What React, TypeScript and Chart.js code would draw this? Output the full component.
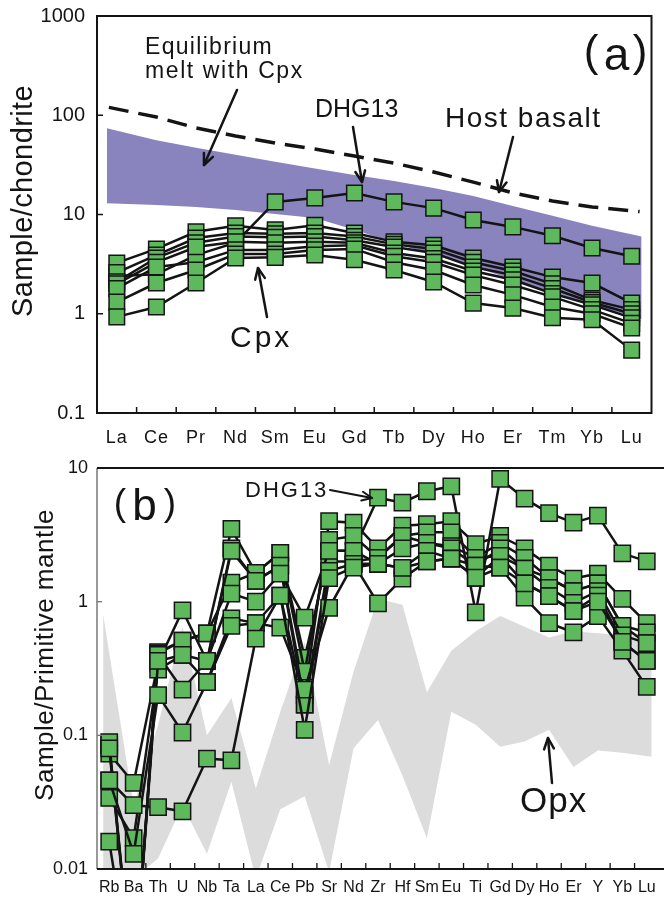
import React, { useEffect, useRef } from 'react';
import Chart from 'chart.js/auto';

// ---------- Panel (a): REE, chondrite normalised ----------
const reeLabels = ['La', 'Ce', 'Pr', 'Nd', 'Sm', 'Eu', 'Gd', 'Tb', 'Dy', 'Ho', 'Er', 'Tm', 'Yb', 'Lu'];
const reeTicks = [0.1, 1, 10, 100, 1000];

const cpxA1 = [3.25, 4.5, 6.7, 7.7, 7.0, 7.8, 6.5, 5.3, 4.9, 3.65, 2.96, 2.34, 2.04, 1.28];
const cpxA2 = [2.6, 3.9, 5.8, 6.5, 6.4, 6.5, 6.0, 5.0, 4.5, 3.3, 2.7, 2.0, 1.37, 1.1];
const cpxA3 = [2.1, 3.65, 5.2, 6.0, 5.9, 6.0, 5.5, 4.7, 4.1, 2.96, 2.45, 1.8, 1.3, 1.0];
const cpxA4 = [2.0, 3.3, 4.7, 5.3, 5.2, 5.3, 5.2, 4.1, 3.6, 2.7, 2.2, 1.6, 1.23, 0.91];
const cpxA5 = [1.8, 2.96, 3.3, 4.4, 4.4, 4.8, 4.9, 3.8, 3.3, 2.45, 1.95, 1.48, 1.1, 0.8];
const cpxA6 = [1.31, 2.04, 2.76, 4.0, 4.0, 4.4, 4.5, 3.3, 2.76, 1.95, 1.55, 1.17, 1.0, 0.72];
const cpxA7 = [0.93, 1.17, 2.04, 3.65, 3.7, 3.9, 3.5, 2.76, 2.09, 1.28, 1.14, 0.91, 0.87, 0.43];
const dhg13Ree = [2.4, 2.5, 3.9, 5.2, 13.4, 14.7, 16.5, 13.4, 11.6, 8.8, 7.5, 6.1, 4.6, 3.8];

// band / host basalt positions (category index, ends slightly outside La and Lu)
const meltX = [-0.25, 1, 2, 3, 4, 5, 6, 7, 8, 9, 10, 11, 12, 13.25];
const meltUpper = [74, 56, 47, 40, 34, 29, 25, 21.7, 18.5, 15.4, 12.2, 9.7, 7.7, 6.0];
const meltLower = [13, 12.5, 11.9, 11.1, 10.1, 9.2, 7.0, 5.2, 3.9, 3.0, 2.2, 1.66, 1.22, 0.88];
const hostX = [-0.2, 1, 2, 3, 4, 5, 6, 7, 8, 9, 10, 11, 12, 13.2];
const hostBasalt = [120, 96, 74.4, 61.8, 52.5, 45.7, 38.8, 33, 26.8, 21.2, 16.5, 13.7, 11.9, 10.7];

// ---------- Panel (b): spider diagram, primitive mantle normalised ----------
const pmLabels = ['Rb', 'Ba', 'Th', 'U', 'Nb', 'Ta', 'La', 'Ce', 'Pb', 'Sr', 'Nd', 'Zr', 'Hf', 'Sm', 'Eu', 'Ti', 'Gd', 'Dy', 'Ho', 'Er', 'Y', 'Yb', 'Lu'];
const pmTicks = [0.01, 0.1, 1, 10];

const dhg13Pm = [0.085, 0.0012, 0.42, 0.51, 0.58, 3.5, 1.64, 2.32, 0.38, 2.4, 2.4, 6.0, 5.5, 6.7, 7.3, 0.83, 8.3, 5.9, 4.6, 3.9, 4.4, 2.3, 2.0];
const cpxB1 = [0.073, 0.044, 0.35, 0.86, 0.36, 2.5, 1.43, 1.86, 0.2, 4.0, 3.9, 2.5, 3.7, 3.8, 4.0, 2.7, 3.1, 2.5, 1.86, 1.49, 1.62, 1.05, 0.69];
const cpxB2 = [0.089, 0.0012, 0.41, 0.51, 0.58, 1.39, 1.64, 2.32, 0.3, 2.9, 3.1, 2.13, 3.1, 3.3, 3.3, 2.13, 2.75, 2.13, 1.5, 1.2, 1.37, 0.66, 0.59];
const cpxB3 = [0.034, 0.017, 0.31, 0.4, 0.36, 1.15, 1.0, 1.62, 0.76, 2.4, 2.4, 1.92, 2.5, 2.75, 2.5, 1.86, 2.5, 1.77, 1.27, 0.98, 1.2, 0.56, 0.49];
const cpxB4 = [0.016, 0.0012, 0.36, 0.4, 0.25, 0.75, 0.69, 1.11, 0.17, 1.7, 1.92, 1.92, 1.79, 2.4, 2.1, 1.51, 2.2, 1.37, 1.1, 0.85, 1.11, 0.5, 0.36];
const cpxB5 = [0.046, 0.013, 0.2, 0.105, 0.25, 0.66, 0.69, 0.64, 0.22, 0.9, 1.92, 0.97, 1.49, 2.0, 2.1, 1.86, 1.8, 1.07, 0.69, 0.59, 0.78, 0.43, 0.23];
const cpxB6 = [0.046, 0.03, 0.029, 0.027, 0.067, 0.065, 0.53, 1.11, 0.11, 1.5, 1.8, 1.92, 1.79, 2.0, 2.1, 1.51, 1.8, 1.37, 1.1, 0.85, 1.0, 0.5, 0.36];
const cpxB7 = [0.08, 0.0012, 0.4, 0.22, 0.36, 2.4, 1.43, 1.86, 0.17, 2.0, 2.0, 2.13, 3.1, 2.75, 2.6, 2.13, 2.2, 1.77, 1.5, 1.2, 1.37, 0.66, 0.49];

const opxX = [-0.25, 1, 2, 3, 4, 5, 6, 7, 8, 9, 10, 11, 12, 13, 14, 15, 16, 17, 18, 19, 20, 21, 22.2];
const opxUpper = [0.8, 0.03, 0.12, 0.65, 0.1, 0.19, 0.04, 0.15, 0.5, 0.06, 0.3, 1.05, 0.95, 0.21, 0.43, 0.6, 0.78, 0.65, 0.54, 0.6, 0.58, 0.56, 0.55];
const opxLower = [0.0085, 0.0085, 0.012, 0.03, 0.013, 0.045, 0.0085, 0.028, 0.035, 0.0095, 0.08, 0.13, 0.05, 0.017, 0.15, 0.12, 0.082, 0.09, 0.11, 0.058, 0.077, 0.074, 0.069];

// ---------- styles ----------
const GREEN = '#5DB95B';
const PURPLE = '#8A84BE';
const GRAY = '#DCDCDC';
const INK = '#141414';
const SANS = '"Liberation Sans", Arial, Helvetica, sans-serif';

const idx = (vals: number[]) => vals.map((v, i) => ({ x: i, y: v }));
const at = (xs: number[], vals: number[]) => xs.map((x, i) => ({ x, y: vals[i] }));

function series(vals: number[], radius: number) {
  return {
    data: idx(vals),
    borderColor: INK,
    borderWidth: 2.5,
    pointStyle: 'rect',
    pointRadius: radius,
    pointHoverRadius: radius,
    pointBackgroundColor: GREEN,
    pointBorderColor: INK,
    pointBorderWidth: 1.5,
    fill: false,
    tension: 0,
  };
}

function band(xs: number[], vals: number[], color: string | null) {
  return {
    data: at(xs, vals),
    borderWidth: 0,
    borderColor: 'rgba(0,0,0,0)',
    pointRadius: 0,
    backgroundColor: color || 'rgba(0,0,0,0)',
    fill: color ? '+1' : false,
    tension: 0,
  };
}

function line(ctx: CanvasRenderingContext2D, x1: number, y1: number, x2: number, y2: number) {
  ctx.beginPath();
  ctx.moveTo(x1, y1);
  ctx.lineTo(x2, y2);
  ctx.stroke();
}

function arrow(ctx: CanvasRenderingContext2D, x1: number, y1: number, x2: number, y2: number, lw = 2.5, head = 12) {
  ctx.save();
  ctx.strokeStyle = INK;
  ctx.lineWidth = lw;
  ctx.lineCap = 'round';
  ctx.lineJoin = 'round';
  line(ctx, x1, y1, x2, y2);
  const ang = Math.atan2(y2 - y1, x2 - x1);
  const a1 = ang + Math.PI - 0.42;
  const a2 = ang + Math.PI + 0.42;
  ctx.beginPath();
  ctx.moveTo(x2 + head * Math.cos(a1), y2 + head * Math.sin(a1));
  ctx.lineTo(x2, y2);
  ctx.lineTo(x2 + head * Math.cos(a2), y2 + head * Math.sin(a2));
  ctx.stroke();
  ctx.restore();
}

function text(ctx: CanvasRenderingContext2D, s: string, x: number, y: number, font: string, align: CanvasTextAlign = 'left', spacing = 0, baseline: CanvasTextBaseline = 'alphabetic') {
  ctx.save();
  ctx.fillStyle = INK;
  ctx.font = font;
  ctx.textAlign = align;
  ctx.textBaseline = baseline;
  (ctx as any).letterSpacing = spacing + 'px';
  ctx.fillText(s, x, y);
  ctx.restore();
}

function vtext(ctx: CanvasRenderingContext2D, s: string, x: number, y: number, font: string, spacing = 0) {
  ctx.save();
  ctx.translate(x, y);
  ctx.rotate(-Math.PI / 2);
  ctx.fillStyle = INK;
  ctx.font = font;
  ctx.textAlign = 'center';
  ctx.textBaseline = 'alphabetic';
  (ctx as any).letterSpacing = spacing + 'px';
  ctx.fillText(s, 0, 0);
  ctx.restore();
}

const decorA = {
  id: 'decorA',
  afterDraw(chart: any) {
    const { ctx, chartArea: a } = chart;
    const x = chart.scales.x;
    const y = chart.scales.y;
    ctx.save();
    ctx.strokeStyle = INK;
    ctx.lineWidth = 1.5;
    for (let i = 0; i < reeLabels.length - 1; i++) {
      const px = x.getPixelForValue(i + 0.5);
      line(ctx, px, a.bottom, px, a.bottom - 6);
    }
    for (const v of reeTicks) {
      const py = y.getPixelForValue(v);
      line(ctx, a.left, py, a.left + 6, py);
    }
    ctx.lineWidth = 2;
    ctx.strokeRect(a.left, a.top, a.right - a.left, a.bottom - a.top);
    ctx.restore();

    reeLabels.forEach((l, i) => text(ctx, l, x.getPixelForValue(i), a.bottom + 25, `18px ${SANS}`, 'center', 1, 'middle'));
    reeTicks.forEach((v) => text(ctx, String(v), a.left - 12, y.getPixelForValue(v), `20px ${SANS}`, 'right', 0, 'middle'));
    vtext(ctx, 'Sample/chondrite', 32, 201, `29px ${SANS}`, 0.4);

    text(ctx, 'Equilibrium', 145, 53.5, `23px ${SANS}`, 'left', 1.3);
    text(ctx, 'melt with Cpx', 145, 78, `23px ${SANS}`, 'left', 1.6);
    arrow(ctx, 237, 90, 204, 165);
    text(ctx, 'DHG13', 315, 117, `25px ${SANS}`, 'left', 0);
    arrow(ctx, 353, 127, 362, 182);
    text(ctx, 'Host basalt', 445, 127, `28px ${SANS}`, 'left', 1.5);
    arrow(ctx, 513, 137, 499, 192);
    text(ctx, 'Cpx', 230, 347, `30px ${SANS}`, 'left', 3);
    arrow(ctx, 267, 317, 258, 268);

    text(ctx, '(', 591, 66, `44px ${SANS}`, 'center');
    text(ctx, 'a', 616.5, 70, `46px ${SANS}`, 'center');
    text(ctx, ')', 640, 66, `44px ${SANS}`, 'center');
  },
};

const decorB = {
  id: 'decorB',
  afterDraw(chart: any) {
    const { ctx, chartArea: a } = chart;
    const x = chart.scales.x;
    const y = chart.scales.y;
    ctx.save();
    ctx.strokeStyle = INK;
    ctx.lineWidth = 1.3;
    for (let i = 0; i < pmLabels.length - 1; i++) {
      const px = x.getPixelForValue(i + 0.5);
      line(ctx, px, a.bottom, px, a.bottom - 6);
    }
    ctx.strokeStyle = '#777';
    for (const v of pmTicks) {
      const py = y.getPixelForValue(v);
      line(ctx, a.left, py, a.left + 5, py);
    }
    ctx.lineWidth = 1.5;
    line(ctx, a.left, a.top, a.left, a.bottom);
    ctx.strokeStyle = INK;
    ctx.lineWidth = 2;
    line(ctx, a.left, a.top, chart.width, a.top);
    line(ctx, a.left, a.bottom, chart.width, a.bottom);
    ctx.restore();

    pmLabels.forEach((l, i) => text(ctx, l, x.getPixelForValue(i), a.bottom + 19, `16px ${SANS}`, 'center', 0, 'middle'));
    pmTicks.forEach((v) => text(ctx, String(v), a.left - 9, y.getPixelForValue(v), `18px ${SANS}`, 'right', 0, 'middle'));
    vtext(ctx, 'Sample/Primitive mantle', 53, 200, `26px ${SANS}`, 0.5);

    text(ctx, '(', 120, 60, `37px ${SANS}`, 'center');
    text(ctx, 'b', 144.5, 65, `44px ${SANS}`, 'center');
    text(ctx, ')', 170, 60, `37px ${SANS}`, 'center');

    text(ctx, 'DHG13', 245, 42, `22px ${SANS}`, 'left', 2);
    arrow(ctx, 330, 35, 372, 43, 2, 11);
    text(ctx, 'Opx', 520, 357, `35px ${SANS}`, 'left', 1);
    arrow(ctx, 552, 328, 548, 283);
  },
};

function baseOptions(xMax: number, yMin: number, yMax: number, pad: any, xH: number) {
  return {
    responsive: false,
    animation: false,
    events: [],
    layout: { padding: pad },
    plugins: {
      legend: { display: false },
      tooltip: { enabled: false },
      filler: { drawTime: 'beforeDatasetsDraw' },
    },
    scales: {
      x: {
        type: 'linear',
        min: -0.5,
        max: xMax,
        grid: { display: false },
        border: { display: false },
        ticks: { display: false },
        afterFit: (s: any) => { s.height = xH; },
      },
      y: {
        type: 'logarithmic',
        min: yMin,
        max: yMax,
        grid: { display: false },
        border: { display: false },
        ticks: { display: false },
        afterFit: (s: any) => { s.width = 97; },
      },
    },
  };
}

export default function App() {
  const refA = useRef<HTMLCanvasElement>(null);
  const refB = useRef<HTMLCanvasElement>(null);

  useEffect(() => {
    const chartA = new Chart(refA.current as HTMLCanvasElement, {
      type: 'line',
      data: {
        datasets: [
          band(meltX, meltUpper, PURPLE),
          band(meltX, meltLower, null),
          {
            data: at(hostX, hostBasalt),
            borderColor: INK,
            borderWidth: 3.5,
            borderDash: [20, 10],
            pointRadius: 0,
            fill: false,
            tension: 0,
          },
          series(cpxA7, 11),
          series(cpxA6, 11),
          series(cpxA5, 11),
          series(cpxA4, 11),
          series(cpxA3, 11),
          series(cpxA2, 11),
          series(cpxA1, 11),
          series(dhg13Ree, 11),
        ] as any,
      },
      options: baseOptions(13.5, 0.1, 1000, { top: 16, right: 2, left: 0, bottom: 0 }, 42) as any,
      plugins: [decorA],
    });

    const chartB = new Chart(refB.current as HTMLCanvasElement, {
      type: 'line',
      data: {
        datasets: [
          band(opxX, opxUpper, GRAY),
          band(opxX, opxLower, null),
          series(cpxB6, 11.5),
          series(cpxB5, 11.5),
          series(cpxB4, 11.5),
          series(cpxB3, 11.5),
          series(cpxB7, 11.5),
          series(cpxB2, 11.5),
          series(cpxB1, 11.5),
          series(dhg13Pm, 11.5),
        ] as any,
      },
      options: baseOptions(22.5, 0.01, 10, { top: 12, right: 5, left: 0, bottom: 0 }, 31) as any,
      plugins: [decorB],
    });

    return () => {
      chartA.destroy();
      chartB.destroy();
    };
  }, []);

  return (
    <div style={{ position: 'absolute', left: 0, top: 0, width: 664, height: 900, overflow: 'hidden', background: '#fff' }}>
      <canvas ref={refA} width={664} height={455} style={{ position: 'absolute', left: 0, top: 0 }} />
      <canvas ref={refB} width={672} height={445} style={{ position: 'absolute', left: 0, top: 455 }} />
    </div>
  );
}
